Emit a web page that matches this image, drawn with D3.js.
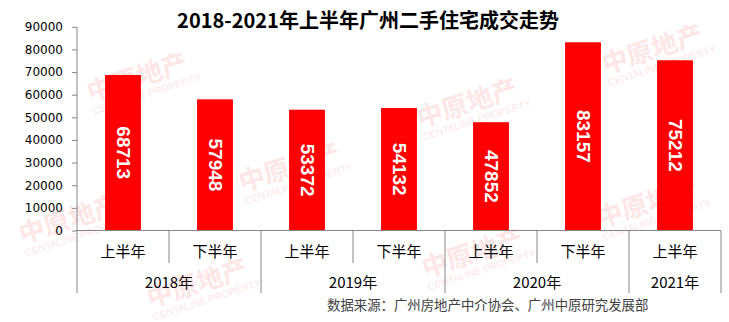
<!DOCTYPE html>
<html>
<head>
<meta charset="utf-8">
<script src="https://cdn.jsdelivr.net/npm/d3@7"></script>
<style>
  body { margin: 0; background: #fff; }
</style>
</head>
<body>
<svg width="729" height="322"></svg>
<script>
// data
const halves = ["上半年", "下半年", "上半年", "下半年", "上半年", "下半年", "上半年"];
const yearOf = ["2018年", "2018年", "2019年", "2019年", "2020年", "2020年", "2021年"];
const years = ["2018年", "2019年", "2020年", "2021年"];
const values = [68713, 57948, 53372, 54132, 47852, 83157, 75212];
const yTicks = [0, 10000, 20000, 30000, 40000, 50000, 60000, 70000, 80000, 90000];
const title = "2018-2021年上半年广州二手住宅成交走势";
const source = "数据来源：广州房地产中介协会、广州中原研究发展部";

const svg = d3.select("svg");
const cjk = "'Noto Sans CJK SC', 'Noto Sans', sans-serif";
const axisColor = "#868686";

// faint background watermarks, kept inside the frame
const marks = [[72, 228], [140, 86], [292, 176], [470, 112], [475, 262], [655, 58], [650, 212], [200, 292]];
const wm = svg.append("g");
marks.forEach(([mx, my]) => {
  const g = wm.append("g").attr("transform", `translate(${mx},${my}) rotate(-18)`);
  g.append("text").text("中原地产")
    .attr("text-anchor", "middle")
    .attr("font-family", cjk).attr("font-weight", "bold").attr("font-size", 26)
    .attr("fill", "#fce6e6");
  g.append("text").text("CENTALINE PROPERTY")
    .attr("x", 4).attr("y", 13)
    .attr("text-anchor", "middle")
    .attr("font-family", "'Liberation Sans', sans-serif").attr("font-size", 10)
    .attr("fill", "#fce6e6");
});

const x0 = 77, x1 = 721, yBottom = 230.5, yTop = 26.8;
const idx = d3.range(values.length);

const xCat = d3.scaleBand().domain(idx).range([x0, x1]).padding(0);
const xBar = xCat.copy().paddingInner(0.61).paddingOuter(0.305);
const y = d3.scaleLinear().domain([0, 90000]).range([yBottom, yTop]);

// y axis
const yAxis = svg.append("g")
  .attr("transform", `translate(${x0},0)`)
  .call(d3.axisLeft(y).tickValues(yTicks).tickFormat(d3.format("d")).tickSize(5).tickPadding(9));
yAxis.select(".domain").remove();
yAxis.selectAll("line").attr("stroke", axisColor);
yAxis.selectAll("text")
  .attr("font-family", "'DejaVu Sans', sans-serif")
  .attr("font-size", 12)
  .attr("fill", "#000");
svg.append("line")
  .attr("x1", x0).attr("x2", x0)
  .attr("y1", yTop).attr("y2", 293)
  .attr("stroke", axisColor);

// bars
svg.append("g").selectAll("rect")
  .data(idx)
  .join("rect")
  .attr("x", (i) => xBar(i))
  .attr("width", xBar.bandwidth())
  .attr("y", (i) => y(values[i]))
  .attr("height", (i) => y(0) - y(values[i]))
  .attr("fill", "#ff0000");

// value labels, rotated
svg.append("g").selectAll("text")
  .data(idx)
  .join("text")
  .attr("transform", (i) => `translate(${xBar(i) + xBar.bandwidth() / 2},${(y(values[i]) + y(0)) / 2}) rotate(90)`)
  .attr("text-anchor", "middle")
  .attr("dominant-baseline", "central")
  .attr("font-family", "'Liberation Sans', Arial, sans-serif")
  .attr("font-weight", "bold")
  .attr("font-size", 19)
  .attr("fill", "#fff")
  .text((i) => values[i]);

// x axis: baseline, separators, two rows of labels
svg.append("line")
  .attr("x1", x0).attr("x2", x1)
  .attr("y1", yBottom).attr("y2", yBottom)
  .attr("stroke", axisColor);

const bounds = d3.range(values.length + 1);
svg.append("g").selectAll("line")
  .data(bounds.slice(1))
  .join("line")
  .attr("x1", (b) => x0 + b * xCat.step())
  .attr("x2", (b) => x0 + b * xCat.step())
  .attr("y1", yBottom)
  .attr("y2", (b) => (b === values.length || yearOf[b] !== yearOf[b - 1]) ? 293 : 263)
  .attr("stroke", axisColor);

svg.append("g").selectAll("text")
  .data(idx)
  .join("text")
  .attr("x", (i) => xCat(i) + xCat.bandwidth() / 2)
  .attr("y", 256.5)
  .attr("text-anchor", "middle")
  .attr("font-family", cjk)
  .attr("font-size", 15)
  .attr("fill", "#000")
  .text((i) => halves[i]);

svg.append("g").selectAll("text")
  .data(years)
  .join("text")
  .attr("x", (yr) => {
    const cols = idx.filter((i) => yearOf[i] === yr);
    return (xCat(cols[0]) + xCat(cols[cols.length - 1]) + xCat.bandwidth()) / 2;
  })
  .attr("y", 287.5)
  .attr("text-anchor", "middle")
  .attr("font-family", cjk)
  .attr("font-size", 15)
  .attr("fill", "#000")
  .text((yr) => yr);

// title and source
svg.append("text")
  .attr("x", 368).attr("y", 28)
  .attr("text-anchor", "middle")
  .attr("font-family", cjk)
  .attr("font-weight", "bold")
  .attr("font-size", 20)
  .attr("fill", "#000")
  .text(title);

svg.append("text")
  .attr("x", 327).attr("y", 310)
  .attr("font-family", cjk)
  .attr("font-size", 13.4)
  .attr("fill", "#404040")
  .text(source);
</script>
</body>
</html>
